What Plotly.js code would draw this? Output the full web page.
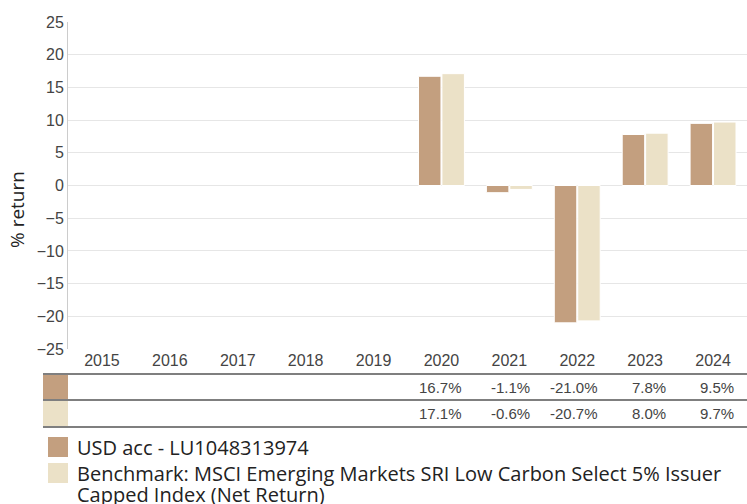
<!DOCTYPE html>
<html><head><meta charset="utf-8">
<script src="https://cdn.plot.ly/plotly-3.0.1.min.js"></script>
<style>html,body{margin:0;padding:0;background:#fff}#chart{width:747px;height:504px}</style>
</head><body><div id="chart"></div>
<script>
const years = ['2015','2016','2017','2018','2019','2020','2021','2022','2023','2024'];
const fundName = 'USD acc - LU1048313974';
const benchNameLines = ['Benchmark: MSCI Emerging Markets SRI Low Carbon Select 5% Issuer', 'Capped Index (Net Return)'];
const fundValues = [null,null,null,null,null,16.7,-1.1,-21.0,7.8,9.5];
const benchValues = [null,null,null,null,null,17.1,-0.6,-20.7,8.0,9.7];
const yTicks = [25,20,15,10,5,0,-5,-10,-15,-20,-25];
const yTitle = '% return';

const fundColor = '#C39F7F';
const benchColor = '#EBE1C7';

const W = 747, H = 504, L = 68, R = 0, T = 22, B = 155;
const plotH = H - T - B, plotW = W - L - R;
const py = p => (H - B - p) / plotH;
const px = p => (p - L) / plotW;

const traces = [
  {type:'bar', x: years, y: fundValues, name: fundName, marker:{color: fundColor, line:{color:'#fff', width:1}}, hoverinfo:'none'},
  {type:'bar', x: years, y: benchValues, name: benchNameLines.join(' '), marker:{color: benchColor, line:{color:'#fff', width:1}}, hoverinfo:'none'}
];

const shapes = [];
const annotations = [];
const lineY = [374, 400, 427];
lineY.forEach(y => shapes.push({type:'line', xref:'paper', yref:'paper', x0: px(43), x1: 1, y0: py(y), y1: py(y), line:{color:'#555', width:1.5}}));
shapes.push({type:'rect', xref:'paper', yref:'paper', x0: px(43), x1: px(68), y0: py(399), y1: py(375), fillcolor: fundColor, line:{width:0}});
shapes.push({type:'rect', xref:'paper', yref:'paper', x0: px(43), x1: px(68), y0: py(426), y1: py(401), fillcolor: benchColor, line:{width:0}});

const fmt = v => v.toFixed(1) + '%';
const cellFont = {family:'Liberation Sans, Arial, sans-serif', size:15, color:'#444'};
years.forEach((yr, i) => {
  const cx = (i + 0.5) / years.length;
  if (fundValues[i] !== null) annotations.push({x: cx, xref:'paper', xshift: 23, y: py(387), yref:'paper', text: fmt(fundValues[i]), showarrow:false, xanchor:'right', yanchor:'middle', font: cellFont});
  if (benchValues[i] !== null) annotations.push({x: cx, xref:'paper', xshift: 23, y: py(413), yref:'paper', text: fmt(benchValues[i]), showarrow:false, xanchor:'right', yanchor:'middle', font: cellFont});
});

// legend
shapes.push({type:'rect', xref:'paper', yref:'paper', x0: px(48), x1: px(68), y0: py(457), y1: py(437), fillcolor: fundColor, line:{width:0}});
shapes.push({type:'rect', xref:'paper', yref:'paper', x0: px(48), x1: px(68), y0: py(483), y1: py(463), fillcolor: benchColor, line:{width:0}});
const legFont = {family:'Open Sans, sans-serif', size:20, color:'#222'};
annotations.push({xref:'paper', yref:'paper', x: px(75), y: py(447), text: fundName, showarrow:false, xanchor:'left', yanchor:'middle', font: legFont});
annotations.push({xref:'paper', yref:'paper', x: px(75), y: py(473), text: benchNameLines[0], showarrow:false, xanchor:'left', yanchor:'middle', font: legFont});
annotations.push({xref:'paper', yref:'paper', x: px(75), y: py(494), text: benchNameLines[1], showarrow:false, xanchor:'left', yanchor:'middle', font: legFont});

// y title
annotations.push({xref:'paper', yref:'paper', x: px(17), y: py(210), text: yTitle, textangle: -90, showarrow:false, xanchor:'center', yanchor:'middle', font:{family:'Open Sans, sans-serif', size:19, color:'#222'}});

const layout = {
  width: W, height: H,
  margin: {l: L, r: R, t: T, b: B, pad: 0},
  paper_bgcolor: '#fff', plot_bgcolor: '#fff',
  showlegend: false,
  barmode: 'group', bargap: 0.31, bargroupgap: 0.04,
  font: {family: 'Liberation Sans, Arial, sans-serif', color: '#444'},
  xaxis: {type:'category', range:[-0.5, 9.5], tickfont:{size:16, color:'#444'}, showgrid:false, showline:false, ticks:'', fixedrange:true},
  yaxis: {range:[-25,25], tickvals: yTicks, tickfont:{size:16, color:'#444'}, gridcolor:'#e6e6e6', gridwidth:1, zeroline:false, showline:true, linecolor:'#ccc', linewidth:1, ticks:'', fixedrange:true},
  shapes, annotations
};

Plotly.newPlot('chart', traces, layout, {displayModeBar:false, staticPlot:true});
</script></body></html>
